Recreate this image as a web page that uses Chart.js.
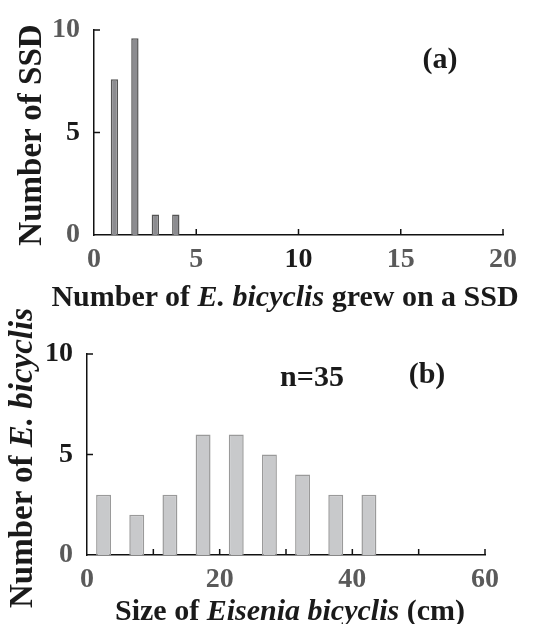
<!DOCTYPE html>
<html>
<head>
<meta charset="utf-8">
<script src="https://cdn.jsdelivr.net/npm/chart.js@4.4.1/dist/chart.umd.min.js"></script>
<style>
    html, body { margin: 0; padding: 0; background: #fff; }
    #page { position: relative; width: 539px; height: 624px; overflow: hidden;
            font-family: "Liberation Serif", "Times New Roman", serif; font-weight: bold; color: #1a1a1a; }
    .box { position: absolute; left: 0; width: 539px; height: 312px; }
    .lbl { position: absolute; white-space: nowrap; font-size: 30px; line-height: 1; transform: translate(-50%, -50%); }
    .rot { transform: translate(-50%, -50%) rotate(-90deg); font-size: 33px; }
</style>
</head>
<body>
<div id="page">
    <div class="box" style="top:0"><canvas id="chartA" width="539" height="312"></canvas></div>
    <div class="box" style="top:312px"><canvas id="chartB" width="539" height="312"></canvas></div>

    <div class="lbl rot" style="left:30px; top:135px">Number of SSD</div>
    <div class="lbl" style="left:285px; top:296px">Number of <i>E. bicyclis</i> grew on a SSD</div>
    <div class="lbl" style="left:440px; top:58px">(a)</div>

    <div class="lbl rot" style="left:21px; top:458px">Number of <i>E. bicyclis</i></div>
    <div class="lbl" style="left:290px; top:610px">Size of <i>Eisenia bicyclis</i> (cm)</div>
    <div class="lbl" style="left:312px; top:376px">n=35</div>
    <div class="lbl" style="left:427px; top:373px">(b)</div>
</div>

<script>
// Panel (a): SSD counts by number of E. bicyclis per SSD
const countsA = [1, 2, 3, 4];
const ssdA = [7.6, 9.6, 1, 1];

// Panel (b): size distribution (bin centres, cm)
const sizeB = [2.5, 7.5, 12.5, 17.5, 22.5, 27.5, 32.5, 37.5, 42.5];
const nB = [3, 2, 3, 6, 6, 5, 4, 3, 3];

const FONT = { family: '"Liberation Serif", "Times New Roman", serif', size: 28, weight: 'bold' };
const GRAY = '#5a5a5a';
const DARK = '#1a1a1a';

// inward tick marks drawn on both axes
const innerTicks = {
    id: 'innerTicks',
    afterDraw(chart, args, opts) {
        const ctx = chart.ctx;
        const area = chart.chartArea;
        ctx.save();
        ctx.strokeStyle = '#111';
        ctx.lineWidth = 1.5;
        opts.xTicks.forEach(v => {
            const px = chart.scales.x.getPixelForValue(v);
            ctx.beginPath();
            ctx.moveTo(px, area.bottom);
            ctx.lineTo(px, area.bottom - opts.len);
            ctx.stroke();
        });
        opts.yTicks.forEach(v => {
            const py = chart.scales.y.getPixelForValue(v);
            ctx.beginPath();
            ctx.moveTo(area.left, py);
            ctx.lineTo(area.left + opts.len, py);
            ctx.stroke();
        });
        ctx.restore();
    }
};

function makeChart(id, xs, ys, cfg) {
    return new Chart(document.getElementById(id), {
        type: 'bar',
        data: {
            datasets: [{
                data: xs.map((x, i) => ({ x: x, y: ys[i] })),
                backgroundColor: cfg.fill,
                borderColor: cfg.border,
                borderWidth: 1.5,
                barPercentage: cfg.barPct,
                categoryPercentage: 1
            }]
        },
        options: {
            responsive: false,
            animation: false,
            layout: { padding: { left: 0, right: cfg.right, top: cfg.top, bottom: 0 } },
            plugins: {
                legend: { display: false },
                tooltip: { enabled: false },
                innerTicks: { xTicks: cfg.xTickMarks, yTicks: [5, 10], len: 6 }
            },
            scales: {
                x: {
                    type: 'linear',
                    min: 0,
                    max: cfg.xMax,
                    offset: false,
                    grid: { display: false },
                    border: { display: true, color: '#111', width: 1.5 },
                    ticks: {
                        stepSize: cfg.xStep,
                        padding: 0,
                        font: FONT,
                        maxRotation: 0,
                        autoSkip: false,
                        color: c => (cfg.xDark.includes(c.tick.value) ? DARK : GRAY),
                        callback: v => (v % cfg.xLabelEvery === 0 ? v : '')
                    },
                    afterFit: s => { s.height = cfg.xHeight; }
                },
                y: {
                    min: 0,
                    max: 10,
                    grid: { display: false },
                    border: { display: true, color: '#111', width: 1.5 },
                    ticks: {
                        stepSize: 5,
                        padding: 6,
                        font: FONT,
                        color: c => (cfg.yDark.includes(c.tick.value) ? DARK : GRAY)
                    },
                    afterFit: s => { s.width = cfg.yWidth; }
                }
            }
        },
        plugins: [innerTicks]
    });
}

document.addEventListener('DOMContentLoaded', function() {
    makeChart('chartA', countsA, ssdA, {
        fill: '#8c8c90', border: '#555', barPct: 0.36,
        xMax: 20, xStep: 5, xLabelEvery: 5, xTickMarks: [5, 10, 15, 20],
        xDark: [10], yDark: [5],
        yWidth: 94, xHeight: 77, top: 30, right: 36
    });
    makeChart('chartB', sizeB, nB, {
        fill: '#c8c9cb', border: '#9a9a9a', barPct: 0.45,
        xMax: 60, xStep: 10, xLabelEvery: 20, xTickMarks: [10, 20, 30, 40, 50, 60],
        xDark: [], yDark: [5, 10],
        yWidth: 87, xHeight: 69, top: 42, right: 54
    });
});
</script>
</body>
</html>
